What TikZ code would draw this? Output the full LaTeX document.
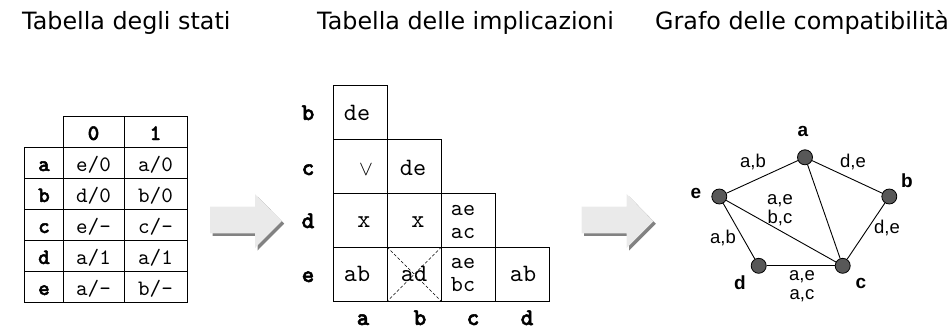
\documentclass[tikz,border=0pt]{standalone}
\usepackage{fontspec}
\setmainfont{DejaVu Sans}
\newfontfamily\arialf{Liberation Sans}
\newfontfamily\courf{lmmono10-regular.otf}
\newfontfamily\courbf[FakeBold=2.2]{lmmonolt10-bold.otf}
\definecolor{arrowfill}{RGB}{234,234,234}
\definecolor{arrowshade}{RGB}{130,130,130}
\definecolor{nodefill}{RGB}{88,88,88}
\begin{document}
\begin{tikzpicture}[x=1pt,y=-1pt,
  title/.style={anchor=base west,inner sep=0,font=\fontsize{23.8}{26}\selectfont},
  tl/.style={anchor=base,inner sep=0,font=\courbf\fontsize{22}{22}\selectfont},
  te/.style={anchor=base,inner sep=0,font=\courf\fontsize{22}{22}\selectfont},
  il/.style={anchor=base,inner sep=0,font=\courbf\fontsize{24}{24}\selectfont},
  ie/.style={anchor=base,inner sep=0,font=\courf\fontsize{25}{21}\selectfont},
  ie2/.style={anchor=center,inner sep=0,align=center,font=\courf\fontsize{23}{23}\selectfont},
  gridl/.style={draw=black,line width=0.9pt},
  bigarrow/.style={fill=arrowfill},
  arrowshadow/.style={fill=arrowshade},
  gnode/.style={circle,draw=black,line width=0.8pt,fill=nodefill,minimum size=15pt,inner sep=0},
  glbl/.style={inner sep=0,font=\arialf\bfseries\fontsize{19}{19}\selectfont},
  elbl/.style={inner sep=0,align=center,font=\arialf\fontsize{18.5}{19}\selectfont},
  edge/.style={draw=black,line width=0.9pt}
]
\useasboundingbox (0,0) rectangle (951,329);

% titles
\node[title] (t1) at (22,30) {Tabella degli stati};
\node[title] (t2) at (317,30) {Tabella delle implicazioni};
\node[title] (t3) at (655,30) {Grafo delle compatibilità};

% ---- state table
\draw[gridl] (63,116) -- (187,116);
\draw[gridl] (24,147) rectangle (187,302);
\foreach \y in {147,178,209,240,271} \draw[gridl] (24,\y) -- (187,\y);
\draw[gridl] (63,116) -- (63,302);
\draw[gridl] (124,116) -- (124,302);
\draw[gridl] (187,116) -- (187,302);

\node[tl] (h0) at (93.5,140) {0};
\node[tl] (h1) at (155.5,140) {1};
\node[tl] (ra) at (44,171) {a};
\node[te] (a0) at (93.5,171) {e/0};
\node[te] (a1) at (155.5,171) {a/0};
\node[tl] (rb) at (44,202) {b};
\node[te] (b0) at (93.5,202) {d/0};
\node[te] (b1) at (155.5,202) {b/0};
\node[tl] (rc) at (44,233) {c};
\node[te] (c0) at (93.5,233) {e/-};
\node[te] (c1) at (155.5,233) {c/-};
\node[tl] (rd) at (44,264) {d};
\node[te] (d0) at (93.5,264) {a/1};
\node[te] (d1) at (155.5,264) {a/1};
\node[tl] (re) at (44,295) {e};
\node[te] (e0) at (93.5,295) {a/-};
\node[te] (e1) at (155.5,295) {b/-};

% ---- arrows
\fill[arrowshadow] (212.5,209.2) -- (257.5,209.2) -- (257.5,196.5) -- (284.2,223.7) -- (257.5,250.5) -- (257.5,235.8) -- (212.5,235.8) -- cycle;
\fill[bigarrow] (210,206.7) -- (255,206.7) -- (255,194) -- (281.7,221.2) -- (255,248) -- (255,233.3) -- (210,233.3) -- cycle;
\fill[arrowshadow] (584.2,209.2) -- (629.2,209.2) -- (629.2,196.5) -- (655.8,223.7) -- (629.2,250.5) -- (629.2,235.8) -- (584.2,235.8) -- cycle;
\fill[bigarrow] (581.7,206.7) -- (626.7,206.7) -- (626.7,194) -- (653.3,221.2) -- (626.7,248) -- (626.7,233.3) -- (581.7,233.3) -- cycle;

% ---- implication table
\draw[gridl] (333,85) rectangle (387,139);
\draw[gridl] (333,139) rectangle (387,193);
\draw[gridl] (387,139) rectangle (441.5,193);
\draw[gridl] (333,193) rectangle (387,247);
\draw[gridl] (387,193) rectangle (441.5,247);
\draw[gridl] (441.5,193) rectangle (495.5,247);
\draw[gridl] (333,247) rectangle (387,301.5);
\draw[gridl] (387,247) rectangle (441.5,301.5);
\draw[gridl] (441.5,247) rectangle (495.5,301.5);
\draw[gridl] (495.5,247) rectangle (549.5,301.5);
\draw[line width=0.6pt,dash pattern=on 3pt off 2pt] (387,247) -- (441.5,301.5);
\draw[line width=0.6pt,dash pattern=on 3pt off 2pt] (441.5,247) -- (387,301.5);

\node[il] (lb) at (308,120) {b};
\node[il] (lc) at (308,175) {c};
\node[il] (ld) at (308,228) {d};
\node[il] (le) at (308,282) {e};
\node[il] (ca) at (363,325) {a};
\node[il] (cb) at (420,325) {b};
\node[il] (cc) at (473,325) {c};
\node[il] (cd) at (527,325) {d};

\node[ie] (iba) at (357,121) {de};
\node[anchor=base,inner sep=0,font=\fontsize{20}{20}\selectfont] (ica) at (366,175) {$\vee$};
\node[ie] (icb) at (413,175) {de};
\node[ie] (ida) at (364,227) {x};
\node[ie] (idb) at (418,227) {x};
\node[ie2] (idc) at (463,222) {ae\\ac};
\node[ie] (iea) at (357,281) {ab};
\node[ie] (ieb) at (414,281) {ad};
\node[ie2] (iec) at (463,275) {ae\\bc};
\node[ie] (ied) at (523,281) {ab};

% ---- graph
\node[gnode] (na) at (805,157.3) {};
\node[gnode] (ne) at (719.3,196.5) {};
\node[gnode] (nb) at (889.3,196.5) {};
\node[gnode] (nd) at (758.7,265.8) {};
\node[gnode] (nc) at (842.7,265.8) {};

\draw[edge] (ne) -- (na);
\draw[edge] (na) -- (nb);
\draw[edge] (na) -- (nc);
\draw[edge] (ne) -- (nc);
\draw[edge] (ne) -- (nd);
\draw[edge] (nd) -- (nc);
\draw[edge] (nb) -- (nc);

\node[glbl] (la) at (803,131) {a};
\node[glbl] (le2) at (696,193) {e};
\node[glbl] (lb2) at (907,181) {b};
\node[glbl] (ld2) at (740,283) {d};
\node[glbl] (lc2) at (861,283) {c};

\node[elbl] (eea) at (753,162) {a,b};
\node[elbl] (eab) at (853,162) {d,e};
\node[elbl] (eec) at (780,210) {a,e\\b,c};
\node[elbl] (eed) at (723,238) {a,b};
\node[elbl] (ebc) at (887,228) {d,e};
\node[elbl] (edc) at (802,286) {a,e\\a,c};
\end{tikzpicture}
\end{document}
